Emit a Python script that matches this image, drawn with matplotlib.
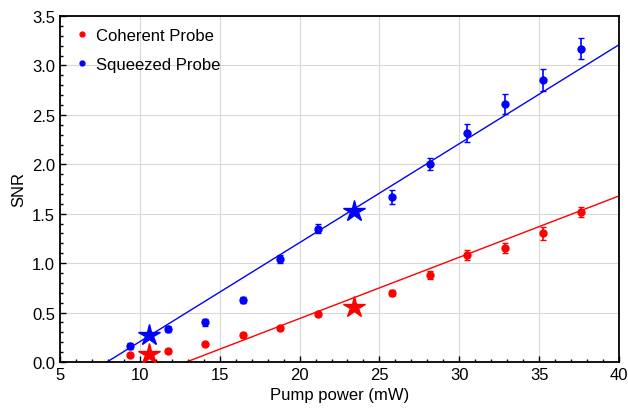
import matplotlib
matplotlib.use("Agg")
import matplotlib.pyplot as plt
import numpy as np
from matplotlib.ticker import MultipleLocator

plt.rcParams['font.family'] = ['Liberation Sans', 'DejaVu Sans']

# Data
power = [9.38, 11.76, 14.08, 16.46, 18.78, 21.16, 25.79, 28.17, 30.49, 32.86, 35.24, 37.62]
snr_squeezed = [0.16, 0.33, 0.40, 0.63, 1.04, 1.35, 1.67, 2.00, 2.32, 2.61, 2.85, 3.17]
err_squeezed = [0.03, 0.03, 0.04, 0.03, 0.04, 0.05, 0.07, 0.06, 0.09, 0.10, 0.11, 0.11]
snr_coherent = [0.07, 0.11, 0.18, 0.27, 0.34, 0.49, 0.70, 0.88, 1.08, 1.15, 1.30, 1.52]
err_coherent = [0.02, 0.02, 0.02, 0.02, 0.02, 0.02, 0.03, 0.04, 0.05, 0.05, 0.07, 0.05]

star_power = [10.57, 23.41]
star_squeezed = [0.27, 1.53]
star_coherent = [0.08, 0.56]

# Linear fits (slope, x-intercept)
fit_x = [5, 40]
sq_slope, sq_x0 = 0.1001, 7.94
co_slope, co_x0 = 0.0620, 12.91

fig = plt.figure(figsize=(6.28, 4.14), dpi=100)
ax = fig.add_axes([60/628, 1 - 363/414, (619-60)/628, (363-17)/414])

xs = np.array(fit_x, dtype=float)
ax.plot(xs, sq_slope * (xs - sq_x0), color='blue', lw=1.0, zorder=2)
ax.plot(xs, co_slope * (xs - co_x0), color='red', lw=1.0, zorder=2)

ax.errorbar(power, snr_coherent, yerr=err_coherent, fmt='o', color='red', ms=5,
            elinewidth=1.2, capsize=2, capthick=1.0, zorder=3)
ax.errorbar(power, snr_squeezed, yerr=err_squeezed, fmt='o', color='blue', ms=5,
            elinewidth=1.2, capsize=2, capthick=1.0, zorder=3)
ax.plot(star_power, star_coherent, '*', color='red', ms=16, zorder=4)
ax.plot(star_power, star_squeezed, '*', color='blue', ms=16, zorder=4)

# Legend handles
h1, = ax.plot([], [], 'o', color='red', ms=3.5, label='Coherent Probe')
h2, = ax.plot([], [], 'o', color='blue', ms=3.5, label='Squeezed Probe')
ax.legend(handles=[h1, h2], loc='upper left', frameon=False, fontsize=12,
          handletextpad=0.25, handlelength=1.2, borderaxespad=0.3, labelspacing=0.85)

ax.set_xlim(5, 40)
ax.set_ylim(0, 3.5)
ax.xaxis.set_major_locator(MultipleLocator(5))
ax.xaxis.set_minor_locator(MultipleLocator(1))
ax.yaxis.set_major_locator(MultipleLocator(0.5))
ax.yaxis.set_minor_locator(MultipleLocator(0.1))
ax.yaxis.set_major_formatter(matplotlib.ticker.FormatStrFormatter('%.1f'))
ax.tick_params(which='both', direction='in', top=False, right=False, labelsize=12)
ax.tick_params(which='major', length=4, width=1)
ax.tick_params(which='minor', length=2, width=1)
ax.grid(True, which='major', color='#d8d8d8', lw=0.8)
ax.set_axisbelow(True)
for s in ax.spines.values():
    s.set_linewidth(1.3)

ax.set_xlabel('Pump power (mW)', fontsize=12)
ax.set_ylabel('SNR', fontsize=12)

fig.savefig('out.png', dpi=100)
